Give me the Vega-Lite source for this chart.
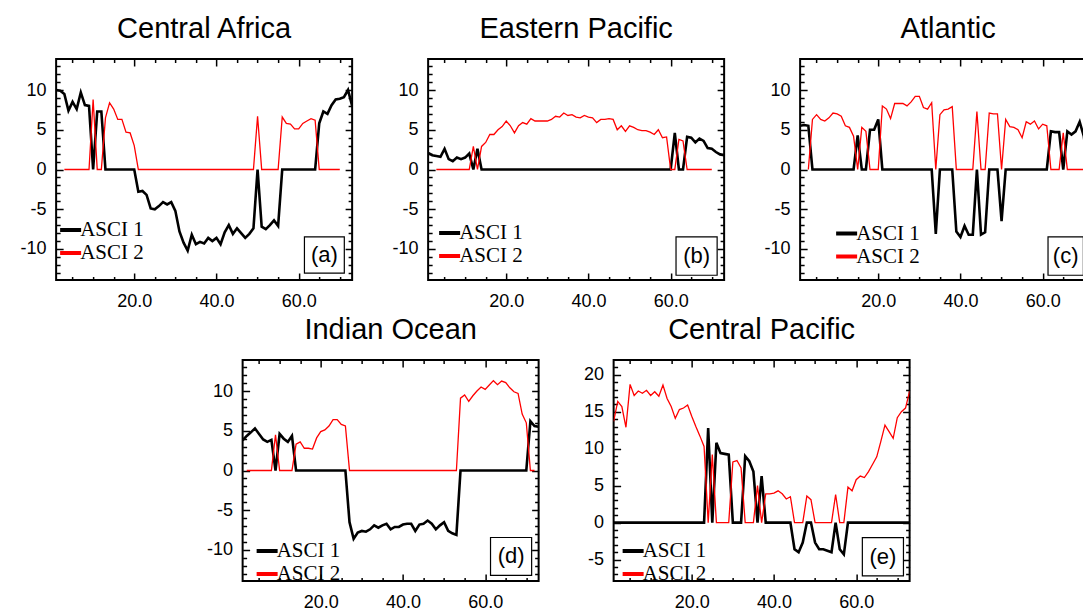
{
"$schema": "https://vega.github.io/schema/vega-lite/v6.json",
"background": "white",
"padding": {"left": 19, "top": 14, "right": 0, "bottom": 0},
"datasets": {
"a": [
{"s":"ASCI 1","t":1,"v":10},{"s":"ASCI 1","t":2,"v":9.9},{"s":"ASCI 1","t":3,"v":9.5},{"s":"ASCI 1","t":4,"v":7.4},{"s":"ASCI 1","t":5,"v":8.5},{"s":"ASCI 1","t":6,"v":7.6},{"s":"ASCI 1","t":7,"v":9.7},{"s":"ASCI 1","t":8,"v":8.1},{"s":"ASCI 1","t":9,"v":8},{"s":"ASCI 1","t":10,"v":0},
{"s":"ASCI 1","t":11,"v":7.3},{"s":"ASCI 1","t":12,"v":7.3},{"s":"ASCI 1","t":13,"v":0},{"s":"ASCI 1","t":14,"v":0},{"s":"ASCI 1","t":15,"v":0},{"s":"ASCI 1","t":16,"v":0},{"s":"ASCI 1","t":17,"v":0},{"s":"ASCI 1","t":18,"v":0},{"s":"ASCI 1","t":19,"v":0},{"s":"ASCI 1","t":20,"v":0},
{"s":"ASCI 1","t":21,"v":-2.8},{"s":"ASCI 1","t":22,"v":-2.7},{"s":"ASCI 1","t":23,"v":-3.2},{"s":"ASCI 1","t":24,"v":-4.9},{"s":"ASCI 1","t":25,"v":-5},{"s":"ASCI 1","t":26,"v":-4.6},{"s":"ASCI 1","t":27,"v":-4.1},{"s":"ASCI 1","t":28,"v":-4.4},{"s":"ASCI 1","t":29,"v":-4.1},{"s":"ASCI 1","t":30,"v":-5.2},
{"s":"ASCI 1","t":31,"v":-7.8},{"s":"ASCI 1","t":32,"v":-9.2},{"s":"ASCI 1","t":33,"v":-10.2},{"s":"ASCI 1","t":34,"v":-8.2},{"s":"ASCI 1","t":35,"v":-9.4},{"s":"ASCI 1","t":36,"v":-9.1},{"s":"ASCI 1","t":37,"v":-9.3},{"s":"ASCI 1","t":38,"v":-8.6},{"s":"ASCI 1","t":39,"v":-9},{"s":"ASCI 1","t":40,"v":-8.6},
{"s":"ASCI 1","t":41,"v":-9.4},{"s":"ASCI 1","t":42,"v":-7.9},{"s":"ASCI 1","t":43,"v":-7},{"s":"ASCI 1","t":44,"v":-8.1},{"s":"ASCI 1","t":45,"v":-7.4},{"s":"ASCI 1","t":46,"v":-8},{"s":"ASCI 1","t":47,"v":-8.6},{"s":"ASCI 1","t":48,"v":-8.1},{"s":"ASCI 1","t":49,"v":-7.4},{"s":"ASCI 1","t":50,"v":0},
{"s":"ASCI 1","t":51,"v":-7.2},{"s":"ASCI 1","t":52,"v":-7.5},{"s":"ASCI 1","t":53,"v":-7},{"s":"ASCI 1","t":54,"v":-6.4},{"s":"ASCI 1","t":55,"v":-7.1},{"s":"ASCI 1","t":56,"v":0},{"s":"ASCI 1","t":57,"v":0},{"s":"ASCI 1","t":58,"v":0},{"s":"ASCI 1","t":59,"v":0},{"s":"ASCI 1","t":60,"v":0},
{"s":"ASCI 1","t":61,"v":0},{"s":"ASCI 1","t":62,"v":0},{"s":"ASCI 1","t":63,"v":0},{"s":"ASCI 1","t":64,"v":0},{"s":"ASCI 1","t":65,"v":5.8},{"s":"ASCI 1","t":66,"v":7.3},{"s":"ASCI 1","t":67,"v":7},{"s":"ASCI 1","t":68,"v":8.1},{"s":"ASCI 1","t":69,"v":8.8},{"s":"ASCI 1","t":70,"v":8.9},
{"s":"ASCI 1","t":71,"v":9.1},{"s":"ASCI 1","t":72,"v":10},{"s":"ASCI 1","t":73,"v":8},
{"s":"ASCI 2","t":3,"v":0},{"s":"ASCI 2","t":4,"v":0},{"s":"ASCI 2","t":5,"v":0},{"s":"ASCI 2","t":6,"v":0},{"s":"ASCI 2","t":7,"v":0},{"s":"ASCI 2","t":8,"v":0},{"s":"ASCI 2","t":9,"v":0},{"s":"ASCI 2","t":10,"v":8.8},
{"s":"ASCI 2","t":11,"v":0},{"s":"ASCI 2","t":12,"v":0},{"s":"ASCI 2","t":13,"v":6.5},{"s":"ASCI 2","t":14,"v":8.4},{"s":"ASCI 2","t":15,"v":7.6},{"s":"ASCI 2","t":16,"v":6.3},{"s":"ASCI 2","t":17,"v":6.3},{"s":"ASCI 2","t":18,"v":4.7},{"s":"ASCI 2","t":19,"v":4.6},{"s":"ASCI 2","t":20,"v":3},
{"s":"ASCI 2","t":21,"v":0},{"s":"ASCI 2","t":22,"v":0},{"s":"ASCI 2","t":23,"v":0},{"s":"ASCI 2","t":24,"v":0},{"s":"ASCI 2","t":25,"v":0},{"s":"ASCI 2","t":26,"v":0},{"s":"ASCI 2","t":27,"v":0},{"s":"ASCI 2","t":28,"v":0},{"s":"ASCI 2","t":29,"v":0},{"s":"ASCI 2","t":30,"v":0},
{"s":"ASCI 2","t":31,"v":0},{"s":"ASCI 2","t":32,"v":0},{"s":"ASCI 2","t":33,"v":0},{"s":"ASCI 2","t":34,"v":0},{"s":"ASCI 2","t":35,"v":0},{"s":"ASCI 2","t":36,"v":0},{"s":"ASCI 2","t":37,"v":0},{"s":"ASCI 2","t":38,"v":0},{"s":"ASCI 2","t":39,"v":0},{"s":"ASCI 2","t":40,"v":0},
{"s":"ASCI 2","t":41,"v":0},{"s":"ASCI 2","t":42,"v":0},{"s":"ASCI 2","t":43,"v":0},{"s":"ASCI 2","t":44,"v":0},{"s":"ASCI 2","t":45,"v":0},{"s":"ASCI 2","t":46,"v":0},{"s":"ASCI 2","t":47,"v":0},{"s":"ASCI 2","t":48,"v":0},{"s":"ASCI 2","t":49,"v":0},{"s":"ASCI 2","t":50,"v":6.7},
{"s":"ASCI 2","t":51,"v":0},{"s":"ASCI 2","t":52,"v":0},{"s":"ASCI 2","t":53,"v":0},{"s":"ASCI 2","t":54,"v":0},{"s":"ASCI 2","t":55,"v":0},{"s":"ASCI 2","t":56,"v":6.6},{"s":"ASCI 2","t":57,"v":5.8},{"s":"ASCI 2","t":58,"v":5.7},{"s":"ASCI 2","t":59,"v":5.1},{"s":"ASCI 2","t":60,"v":5.1},
{"s":"ASCI 2","t":61,"v":5.8},{"s":"ASCI 2","t":62,"v":6.1},{"s":"ASCI 2","t":63,"v":6.4},{"s":"ASCI 2","t":64,"v":6.2},{"s":"ASCI 2","t":65,"v":0},{"s":"ASCI 2","t":66,"v":0},{"s":"ASCI 2","t":67,"v":0},{"s":"ASCI 2","t":68,"v":0},{"s":"ASCI 2","t":69,"v":0},{"s":"ASCI 2","t":70,"v":0}
],
"b": [
{"s":"ASCI 1","t":1,"v":2.1},{"s":"ASCI 1","t":2,"v":1.8},{"s":"ASCI 1","t":3,"v":1.7},{"s":"ASCI 1","t":4,"v":1.6},{"s":"ASCI 1","t":5,"v":2.6},{"s":"ASCI 1","t":6,"v":1.3},{"s":"ASCI 1","t":7,"v":1.05},{"s":"ASCI 1","t":8,"v":1.5},{"s":"ASCI 1","t":9,"v":1.3},{"s":"ASCI 1","t":10,"v":1.5},
{"s":"ASCI 1","t":11,"v":2},{"s":"ASCI 1","t":12,"v":0},{"s":"ASCI 1","t":13,"v":2.6},{"s":"ASCI 1","t":14,"v":0},{"s":"ASCI 1","t":15,"v":0},{"s":"ASCI 1","t":16,"v":0},{"s":"ASCI 1","t":17,"v":0},{"s":"ASCI 1","t":18,"v":0},{"s":"ASCI 1","t":19,"v":0},{"s":"ASCI 1","t":20,"v":0},
{"s":"ASCI 1","t":21,"v":0},{"s":"ASCI 1","t":22,"v":0},{"s":"ASCI 1","t":23,"v":0},{"s":"ASCI 1","t":24,"v":0},{"s":"ASCI 1","t":25,"v":0},{"s":"ASCI 1","t":26,"v":0},{"s":"ASCI 1","t":27,"v":0},{"s":"ASCI 1","t":28,"v":0},{"s":"ASCI 1","t":29,"v":0},{"s":"ASCI 1","t":30,"v":0},
{"s":"ASCI 1","t":31,"v":0},{"s":"ASCI 1","t":32,"v":0},{"s":"ASCI 1","t":33,"v":0},{"s":"ASCI 1","t":34,"v":0},{"s":"ASCI 1","t":35,"v":0},{"s":"ASCI 1","t":36,"v":0},{"s":"ASCI 1","t":37,"v":0},{"s":"ASCI 1","t":38,"v":0},{"s":"ASCI 1","t":39,"v":0},{"s":"ASCI 1","t":40,"v":0},
{"s":"ASCI 1","t":41,"v":0},{"s":"ASCI 1","t":42,"v":0},{"s":"ASCI 1","t":43,"v":0},{"s":"ASCI 1","t":44,"v":0},{"s":"ASCI 1","t":45,"v":0},{"s":"ASCI 1","t":46,"v":0},{"s":"ASCI 1","t":47,"v":0},{"s":"ASCI 1","t":48,"v":0},{"s":"ASCI 1","t":49,"v":0},{"s":"ASCI 1","t":50,"v":0},
{"s":"ASCI 1","t":51,"v":0},{"s":"ASCI 1","t":52,"v":0},{"s":"ASCI 1","t":53,"v":0},{"s":"ASCI 1","t":54,"v":0},{"s":"ASCI 1","t":55,"v":0},{"s":"ASCI 1","t":56,"v":0},{"s":"ASCI 1","t":57,"v":0},{"s":"ASCI 1","t":58,"v":0},{"s":"ASCI 1","t":59,"v":0},{"s":"ASCI 1","t":60,"v":0},
{"s":"ASCI 1","t":61,"v":4.6},{"s":"ASCI 1","t":62,"v":0},{"s":"ASCI 1","t":63,"v":0},{"s":"ASCI 1","t":64,"v":4.1},{"s":"ASCI 1","t":65,"v":4},{"s":"ASCI 1","t":66,"v":3.4},{"s":"ASCI 1","t":67,"v":3.9},{"s":"ASCI 1","t":68,"v":3.6},{"s":"ASCI 1","t":69,"v":2.7},{"s":"ASCI 1","t":70,"v":2.6},
{"s":"ASCI 1","t":71,"v":2.2},{"s":"ASCI 1","t":72,"v":1.9},{"s":"ASCI 1","t":73,"v":1.8},
{"s":"ASCI 2","t":3,"v":0},{"s":"ASCI 2","t":4,"v":0},{"s":"ASCI 2","t":5,"v":0},{"s":"ASCI 2","t":6,"v":0},{"s":"ASCI 2","t":7,"v":0},{"s":"ASCI 2","t":8,"v":0},{"s":"ASCI 2","t":9,"v":0},{"s":"ASCI 2","t":10,"v":0},
{"s":"ASCI 2","t":11,"v":0},{"s":"ASCI 2","t":12,"v":2.9},{"s":"ASCI 2","t":13,"v":0},{"s":"ASCI 2","t":14,"v":2.9},{"s":"ASCI 2","t":15,"v":3.4},{"s":"ASCI 2","t":16,"v":4.4},{"s":"ASCI 2","t":17,"v":4.4},{"s":"ASCI 2","t":18,"v":5},{"s":"ASCI 2","t":19,"v":5.4},{"s":"ASCI 2","t":20,"v":6.1},
{"s":"ASCI 2","t":21,"v":5.5},{"s":"ASCI 2","t":22,"v":4.6},{"s":"ASCI 2","t":23,"v":5.5},{"s":"ASCI 2","t":24,"v":5.9},{"s":"ASCI 2","t":25,"v":5.7},{"s":"ASCI 2","t":26,"v":6.4},{"s":"ASCI 2","t":27,"v":6.1},{"s":"ASCI 2","t":28,"v":6.1},{"s":"ASCI 2","t":29,"v":6.1},{"s":"ASCI 2","t":30,"v":6.1},
{"s":"ASCI 2","t":31,"v":6.3},{"s":"ASCI 2","t":32,"v":6.7},{"s":"ASCI 2","t":33,"v":6.6},{"s":"ASCI 2","t":34,"v":7.1},{"s":"ASCI 2","t":35,"v":6.8},{"s":"ASCI 2","t":36,"v":6.9},{"s":"ASCI 2","t":37,"v":6.6},{"s":"ASCI 2","t":38,"v":6.5},{"s":"ASCI 2","t":39,"v":6.8},{"s":"ASCI 2","t":40,"v":6.6},
{"s":"ASCI 2","t":41,"v":6.5},{"s":"ASCI 2","t":42,"v":5.9},{"s":"ASCI 2","t":43,"v":6.3},{"s":"ASCI 2","t":44,"v":6.3},{"s":"ASCI 2","t":45,"v":6.4},{"s":"ASCI 2","t":46,"v":6.3},{"s":"ASCI 2","t":47,"v":5},{"s":"ASCI 2","t":48,"v":5.5},{"s":"ASCI 2","t":49,"v":4.8},{"s":"ASCI 2","t":50,"v":5.5},
{"s":"ASCI 2","t":51,"v":5.3},{"s":"ASCI 2","t":52,"v":5},{"s":"ASCI 2","t":53,"v":4.9},{"s":"ASCI 2","t":54,"v":4.9},{"s":"ASCI 2","t":55,"v":4.7},{"s":"ASCI 2","t":56,"v":4.4},{"s":"ASCI 2","t":57,"v":5},{"s":"ASCI 2","t":58,"v":4},{"s":"ASCI 2","t":59,"v":4.1},{"s":"ASCI 2","t":60,"v":0},
{"s":"ASCI 2","t":61,"v":0},{"s":"ASCI 2","t":62,"v":3.8},{"s":"ASCI 2","t":63,"v":3.6},{"s":"ASCI 2","t":64,"v":0},{"s":"ASCI 2","t":65,"v":0},{"s":"ASCI 2","t":66,"v":0},{"s":"ASCI 2","t":67,"v":0},{"s":"ASCI 2","t":68,"v":0},{"s":"ASCI 2","t":69,"v":0},{"s":"ASCI 2","t":70,"v":0}
],
"c": [
{"s":"ASCI 1","t":1,"v":5.5},{"s":"ASCI 1","t":2,"v":5.6},{"s":"ASCI 1","t":3,"v":5.5},{"s":"ASCI 1","t":4,"v":0},{"s":"ASCI 1","t":5,"v":0},{"s":"ASCI 1","t":6,"v":0},{"s":"ASCI 1","t":7,"v":0},{"s":"ASCI 1","t":8,"v":0},{"s":"ASCI 1","t":9,"v":0},{"s":"ASCI 1","t":10,"v":0},
{"s":"ASCI 1","t":11,"v":0},{"s":"ASCI 1","t":12,"v":0},{"s":"ASCI 1","t":13,"v":0},{"s":"ASCI 1","t":14,"v":0},{"s":"ASCI 1","t":15,"v":4.3},{"s":"ASCI 1","t":16,"v":0},{"s":"ASCI 1","t":17,"v":0},{"s":"ASCI 1","t":18,"v":5},{"s":"ASCI 1","t":19,"v":5},{"s":"ASCI 1","t":20,"v":6.3},
{"s":"ASCI 1","t":21,"v":0},{"s":"ASCI 1","t":22,"v":0},{"s":"ASCI 1","t":23,"v":0},{"s":"ASCI 1","t":24,"v":0},{"s":"ASCI 1","t":25,"v":0},{"s":"ASCI 1","t":26,"v":0},{"s":"ASCI 1","t":27,"v":0},{"s":"ASCI 1","t":28,"v":0},{"s":"ASCI 1","t":29,"v":0},{"s":"ASCI 1","t":30,"v":0},
{"s":"ASCI 1","t":31,"v":0},{"s":"ASCI 1","t":32,"v":0},{"s":"ASCI 1","t":33,"v":0},{"s":"ASCI 1","t":34,"v":-8.1},{"s":"ASCI 1","t":35,"v":0},{"s":"ASCI 1","t":36,"v":0},{"s":"ASCI 1","t":37,"v":0},{"s":"ASCI 1","t":38,"v":0},{"s":"ASCI 1","t":39,"v":-7.8},{"s":"ASCI 1","t":40,"v":-8.5},
{"s":"ASCI 1","t":41,"v":-7.1},{"s":"ASCI 1","t":42,"v":-8.2},{"s":"ASCI 1","t":43,"v":-8.2},{"s":"ASCI 1","t":44,"v":0},{"s":"ASCI 1","t":45,"v":-8.2},{"s":"ASCI 1","t":46,"v":-7.9},{"s":"ASCI 1","t":47,"v":0},{"s":"ASCI 1","t":48,"v":0},{"s":"ASCI 1","t":49,"v":0},{"s":"ASCI 1","t":50,"v":-6.5},
{"s":"ASCI 1","t":51,"v":0},{"s":"ASCI 1","t":52,"v":0},{"s":"ASCI 1","t":53,"v":0},{"s":"ASCI 1","t":54,"v":0},{"s":"ASCI 1","t":55,"v":0},{"s":"ASCI 1","t":56,"v":0},{"s":"ASCI 1","t":57,"v":0},{"s":"ASCI 1","t":58,"v":0},{"s":"ASCI 1","t":59,"v":0},{"s":"ASCI 1","t":60,"v":0},
{"s":"ASCI 1","t":61,"v":0},{"s":"ASCI 1","t":62,"v":4.8},{"s":"ASCI 1","t":63,"v":4.7},{"s":"ASCI 1","t":64,"v":4.7},{"s":"ASCI 1","t":65,"v":0},{"s":"ASCI 1","t":66,"v":4.8},{"s":"ASCI 1","t":67,"v":4.4},{"s":"ASCI 1","t":68,"v":4.8},{"s":"ASCI 1","t":69,"v":6},{"s":"ASCI 1","t":70,"v":4.2},
{"s":"ASCI 1","t":71,"v":0},{"s":"ASCI 1","t":72,"v":0},{"s":"ASCI 1","t":73,"v":0},
{"s":"ASCI 2","t":3,"v":0},{"s":"ASCI 2","t":4,"v":6.3},{"s":"ASCI 2","t":5,"v":6.9},{"s":"ASCI 2","t":6,"v":6.3},{"s":"ASCI 2","t":7,"v":6.1},{"s":"ASCI 2","t":8,"v":6.5},{"s":"ASCI 2","t":9,"v":7.1},{"s":"ASCI 2","t":10,"v":7},
{"s":"ASCI 2","t":11,"v":6.7},{"s":"ASCI 2","t":12,"v":5.5},{"s":"ASCI 2","t":13,"v":5.3},{"s":"ASCI 2","t":14,"v":4.2},{"s":"ASCI 2","t":15,"v":0},{"s":"ASCI 2","t":16,"v":5.3},{"s":"ASCI 2","t":17,"v":4.8},{"s":"ASCI 2","t":18,"v":0},{"s":"ASCI 2","t":19,"v":0},{"s":"ASCI 2","t":20,"v":0},
{"s":"ASCI 2","t":21,"v":8},{"s":"ASCI 2","t":22,"v":7.6},{"s":"ASCI 2","t":23,"v":6.4},{"s":"ASCI 2","t":24,"v":8.3},{"s":"ASCI 2","t":25,"v":8.3},{"s":"ASCI 2","t":26,"v":8.3},{"s":"ASCI 2","t":27,"v":8},{"s":"ASCI 2","t":28,"v":8.5},{"s":"ASCI 2","t":29,"v":9.2},{"s":"ASCI 2","t":30,"v":9.2},
{"s":"ASCI 2","t":31,"v":7.8},{"s":"ASCI 2","t":32,"v":7.6},{"s":"ASCI 2","t":33,"v":8.4},{"s":"ASCI 2","t":34,"v":0},{"s":"ASCI 2","t":35,"v":6.9},{"s":"ASCI 2","t":36,"v":7.5},{"s":"ASCI 2","t":37,"v":7.6},{"s":"ASCI 2","t":38,"v":7.9},{"s":"ASCI 2","t":39,"v":0},{"s":"ASCI 2","t":40,"v":0},
{"s":"ASCI 2","t":41,"v":0},{"s":"ASCI 2","t":42,"v":0},{"s":"ASCI 2","t":43,"v":0},{"s":"ASCI 2","t":44,"v":7.3},{"s":"ASCI 2","t":45,"v":0},{"s":"ASCI 2","t":46,"v":0},{"s":"ASCI 2","t":47,"v":7.1},{"s":"ASCI 2","t":48,"v":7},{"s":"ASCI 2","t":49,"v":7},{"s":"ASCI 2","t":50,"v":0},
{"s":"ASCI 2","t":51,"v":6.3},{"s":"ASCI 2","t":52,"v":5.4},{"s":"ASCI 2","t":53,"v":5.3},{"s":"ASCI 2","t":54,"v":5},{"s":"ASCI 2","t":55,"v":4},{"s":"ASCI 2","t":56,"v":6},{"s":"ASCI 2","t":57,"v":5.7},{"s":"ASCI 2","t":58,"v":6.1},{"s":"ASCI 2","t":59,"v":5.1},{"s":"ASCI 2","t":60,"v":5.7},
{"s":"ASCI 2","t":61,"v":5.5},{"s":"ASCI 2","t":62,"v":0},{"s":"ASCI 2","t":63,"v":0},{"s":"ASCI 2","t":64,"v":0},{"s":"ASCI 2","t":65,"v":4.6},{"s":"ASCI 2","t":66,"v":0},{"s":"ASCI 2","t":67,"v":0},{"s":"ASCI 2","t":68,"v":0},{"s":"ASCI 2","t":69,"v":0},{"s":"ASCI 2","t":70,"v":0},
{"s":"ASCI 2","t":71,"v":5}
],
"d": [
{"s":"ASCI 1","t":1,"v":3.8},{"s":"ASCI 1","t":2,"v":4.35},{"s":"ASCI 1","t":3,"v":4.8},{"s":"ASCI 1","t":4,"v":5.3},{"s":"ASCI 1","t":5,"v":4.6},{"s":"ASCI 1","t":6,"v":3.9},{"s":"ASCI 1","t":7,"v":3.6},{"s":"ASCI 1","t":8,"v":3.85},{"s":"ASCI 1","t":9,"v":0},{"s":"ASCI 1","t":10,"v":4.6},
{"s":"ASCI 1","t":11,"v":4},{"s":"ASCI 1","t":12,"v":3.6},{"s":"ASCI 1","t":13,"v":4.35},{"s":"ASCI 1","t":14,"v":0},{"s":"ASCI 1","t":15,"v":0},{"s":"ASCI 1","t":16,"v":0},{"s":"ASCI 1","t":17,"v":0},{"s":"ASCI 1","t":18,"v":0},{"s":"ASCI 1","t":19,"v":0},{"s":"ASCI 1","t":20,"v":0},
{"s":"ASCI 1","t":21,"v":0},{"s":"ASCI 1","t":22,"v":0},{"s":"ASCI 1","t":23,"v":0},{"s":"ASCI 1","t":24,"v":0},{"s":"ASCI 1","t":25,"v":0},{"s":"ASCI 1","t":26,"v":0},{"s":"ASCI 1","t":27,"v":-6.5},{"s":"ASCI 1","t":28,"v":-8.6},{"s":"ASCI 1","t":29,"v":-7.8},{"s":"ASCI 1","t":30,"v":-7.6},
{"s":"ASCI 1","t":31,"v":-7.7},{"s":"ASCI 1","t":32,"v":-7.4},{"s":"ASCI 1","t":33,"v":-6.9},{"s":"ASCI 1","t":34,"v":-7.2},{"s":"ASCI 1","t":35,"v":-6.9},{"s":"ASCI 1","t":36,"v":-6.7},{"s":"ASCI 1","t":37,"v":-7.4},{"s":"ASCI 1","t":38,"v":-7.1},{"s":"ASCI 1","t":39,"v":-7.1},{"s":"ASCI 1","t":40,"v":-6.8},
{"s":"ASCI 1","t":41,"v":-6.7},{"s":"ASCI 1","t":42,"v":-6.7},{"s":"ASCI 1","t":43,"v":-7.6},{"s":"ASCI 1","t":44,"v":-6.8},{"s":"ASCI 1","t":45,"v":-6.7},{"s":"ASCI 1","t":46,"v":-6.3},{"s":"ASCI 1","t":47,"v":-6.7},{"s":"ASCI 1","t":48,"v":-7.4},{"s":"ASCI 1","t":49,"v":-6.9},{"s":"ASCI 1","t":50,"v":-6.5},
{"s":"ASCI 1","t":51,"v":-7.6},{"s":"ASCI 1","t":52,"v":-7.9},{"s":"ASCI 1","t":53,"v":-8.1},{"s":"ASCI 1","t":54,"v":0},{"s":"ASCI 1","t":55,"v":0},{"s":"ASCI 1","t":56,"v":0},{"s":"ASCI 1","t":57,"v":0},{"s":"ASCI 1","t":58,"v":0},{"s":"ASCI 1","t":59,"v":0},{"s":"ASCI 1","t":60,"v":0},
{"s":"ASCI 1","t":61,"v":0},{"s":"ASCI 1","t":62,"v":0},{"s":"ASCI 1","t":63,"v":0},{"s":"ASCI 1","t":64,"v":0},{"s":"ASCI 1","t":65,"v":0},{"s":"ASCI 1","t":66,"v":0},{"s":"ASCI 1","t":67,"v":0},{"s":"ASCI 1","t":68,"v":0},{"s":"ASCI 1","t":69,"v":0},{"s":"ASCI 1","t":70,"v":0},
{"s":"ASCI 1","t":71,"v":6.2},{"s":"ASCI 1","t":72,"v":5.6},{"s":"ASCI 1","t":73,"v":5.5},
{"s":"ASCI 2","t":2,"v":0},{"s":"ASCI 2","t":3,"v":0},{"s":"ASCI 2","t":4,"v":0},{"s":"ASCI 2","t":5,"v":0},{"s":"ASCI 2","t":6,"v":0},{"s":"ASCI 2","t":7,"v":0},{"s":"ASCI 2","t":8,"v":0},{"s":"ASCI 2","t":9,"v":4.5},{"s":"ASCI 2","t":10,"v":0},
{"s":"ASCI 2","t":11,"v":0},{"s":"ASCI 2","t":12,"v":0},{"s":"ASCI 2","t":13,"v":0},{"s":"ASCI 2","t":14,"v":3.3},{"s":"ASCI 2","t":15,"v":3.6},{"s":"ASCI 2","t":16,"v":2.8},{"s":"ASCI 2","t":17,"v":2.8},{"s":"ASCI 2","t":18,"v":2.7},{"s":"ASCI 2","t":19,"v":4.1},{"s":"ASCI 2","t":20,"v":4.9},
{"s":"ASCI 2","t":21,"v":5.1},{"s":"ASCI 2","t":22,"v":5.6},{"s":"ASCI 2","t":23,"v":6.4},{"s":"ASCI 2","t":24,"v":6.4},{"s":"ASCI 2","t":25,"v":5.8},{"s":"ASCI 2","t":26,"v":5.6},{"s":"ASCI 2","t":27,"v":0},{"s":"ASCI 2","t":28,"v":0},{"s":"ASCI 2","t":29,"v":0},{"s":"ASCI 2","t":30,"v":0},
{"s":"ASCI 2","t":31,"v":0},{"s":"ASCI 2","t":32,"v":0},{"s":"ASCI 2","t":33,"v":0},{"s":"ASCI 2","t":34,"v":0},{"s":"ASCI 2","t":35,"v":0},{"s":"ASCI 2","t":36,"v":0},{"s":"ASCI 2","t":37,"v":0},{"s":"ASCI 2","t":38,"v":0},{"s":"ASCI 2","t":39,"v":0},{"s":"ASCI 2","t":40,"v":0},
{"s":"ASCI 2","t":41,"v":0},{"s":"ASCI 2","t":42,"v":0},{"s":"ASCI 2","t":43,"v":0},{"s":"ASCI 2","t":44,"v":0},{"s":"ASCI 2","t":45,"v":0},{"s":"ASCI 2","t":46,"v":0},{"s":"ASCI 2","t":47,"v":0},{"s":"ASCI 2","t":48,"v":0},{"s":"ASCI 2","t":49,"v":0},{"s":"ASCI 2","t":50,"v":0},
{"s":"ASCI 2","t":51,"v":0},{"s":"ASCI 2","t":52,"v":0},{"s":"ASCI 2","t":53,"v":0},{"s":"ASCI 2","t":54,"v":9.1},{"s":"ASCI 2","t":55,"v":9.5},{"s":"ASCI 2","t":56,"v":8.7},{"s":"ASCI 2","t":57,"v":9.4},{"s":"ASCI 2","t":58,"v":10},{"s":"ASCI 2","t":59,"v":10.5},{"s":"ASCI 2","t":60,"v":10.2},
{"s":"ASCI 2","t":61,"v":10.75},{"s":"ASCI 2","t":62,"v":11.3},{"s":"ASCI 2","t":63,"v":10.8},{"s":"ASCI 2","t":64,"v":11.25},{"s":"ASCI 2","t":65,"v":11.05},{"s":"ASCI 2","t":66,"v":10.4},{"s":"ASCI 2","t":67,"v":9.9},{"s":"ASCI 2","t":68,"v":9.7},{"s":"ASCI 2","t":69,"v":7.1},{"s":"ASCI 2","t":70,"v":6},
{"s":"ASCI 2","t":71,"v":0},{"s":"ASCI 2","t":72,"v":0}
],
"e": [
{"s":"ASCI 1","t":1,"v":0},{"s":"ASCI 1","t":2,"v":0},{"s":"ASCI 1","t":3,"v":0},{"s":"ASCI 1","t":4,"v":0},{"s":"ASCI 1","t":5,"v":0},{"s":"ASCI 1","t":6,"v":0},{"s":"ASCI 1","t":7,"v":0},{"s":"ASCI 1","t":8,"v":0},{"s":"ASCI 1","t":9,"v":0},{"s":"ASCI 1","t":10,"v":0},
{"s":"ASCI 1","t":11,"v":0},{"s":"ASCI 1","t":12,"v":0},{"s":"ASCI 1","t":13,"v":0},{"s":"ASCI 1","t":14,"v":0},{"s":"ASCI 1","t":15,"v":0},{"s":"ASCI 1","t":16,"v":0},{"s":"ASCI 1","t":17,"v":0},{"s":"ASCI 1","t":18,"v":0},{"s":"ASCI 1","t":19,"v":0},{"s":"ASCI 1","t":20,"v":0},
{"s":"ASCI 1","t":21,"v":0},{"s":"ASCI 1","t":22,"v":0},{"s":"ASCI 1","t":23,"v":0},{"s":"ASCI 1","t":24,"v":12.8},{"s":"ASCI 1","t":25,"v":0},{"s":"ASCI 1","t":26,"v":10.8},{"s":"ASCI 1","t":27,"v":9.4},{"s":"ASCI 1","t":28,"v":9.3},{"s":"ASCI 1","t":29,"v":9.2},{"s":"ASCI 1","t":30,"v":0},
{"s":"ASCI 1","t":31,"v":0},{"s":"ASCI 1","t":32,"v":0},{"s":"ASCI 1","t":33,"v":9},{"s":"ASCI 1","t":34,"v":8.3},{"s":"ASCI 1","t":35,"v":6.9},{"s":"ASCI 1","t":36,"v":0},{"s":"ASCI 1","t":37,"v":6.3},{"s":"ASCI 1","t":38,"v":0},{"s":"ASCI 1","t":39,"v":0},{"s":"ASCI 1","t":40,"v":0},
{"s":"ASCI 1","t":41,"v":0},{"s":"ASCI 1","t":42,"v":0},{"s":"ASCI 1","t":43,"v":0},{"s":"ASCI 1","t":44,"v":0},{"s":"ASCI 1","t":45,"v":-3.6},{"s":"ASCI 1","t":46,"v":-4},{"s":"ASCI 1","t":47,"v":-2.7},{"s":"ASCI 1","t":48,"v":0},{"s":"ASCI 1","t":49,"v":0},{"s":"ASCI 1","t":50,"v":-2.7},
{"s":"ASCI 1","t":51,"v":-3.6},{"s":"ASCI 1","t":52,"v":-3.6},{"s":"ASCI 1","t":53,"v":-3.8},{"s":"ASCI 1","t":54,"v":-4},{"s":"ASCI 1","t":55,"v":0},{"s":"ASCI 1","t":56,"v":-3.6},{"s":"ASCI 1","t":57,"v":-4.3},{"s":"ASCI 1","t":58,"v":0},{"s":"ASCI 1","t":59,"v":0},{"s":"ASCI 1","t":60,"v":0},
{"s":"ASCI 1","t":61,"v":0},{"s":"ASCI 1","t":62,"v":0},{"s":"ASCI 1","t":63,"v":0},{"s":"ASCI 1","t":64,"v":0},{"s":"ASCI 1","t":65,"v":0},{"s":"ASCI 1","t":66,"v":0},{"s":"ASCI 1","t":67,"v":0},{"s":"ASCI 1","t":68,"v":0},{"s":"ASCI 1","t":69,"v":0},{"s":"ASCI 1","t":70,"v":0},
{"s":"ASCI 1","t":71,"v":0},{"s":"ASCI 1","t":72,"v":0},{"s":"ASCI 1","t":73,"v":0},
{"s":"ASCI 2","t":1,"v":13.7},{"s":"ASCI 2","t":2,"v":16.4},{"s":"ASCI 2","t":3,"v":15.7},{"s":"ASCI 2","t":4,"v":12.9},{"s":"ASCI 2","t":5,"v":18.7},{"s":"ASCI 2","t":6,"v":17.2},{"s":"ASCI 2","t":7,"v":17.8},{"s":"ASCI 2","t":8,"v":17.5},{"s":"ASCI 2","t":9,"v":17.9},{"s":"ASCI 2","t":10,"v":17.2},
{"s":"ASCI 2","t":11,"v":17.7},{"s":"ASCI 2","t":12,"v":17.1},{"s":"ASCI 2","t":13,"v":18.6},{"s":"ASCI 2","t":14,"v":16.8},{"s":"ASCI 2","t":15,"v":15.7},{"s":"ASCI 2","t":16,"v":14.1},{"s":"ASCI 2","t":17,"v":15.3},{"s":"ASCI 2","t":18,"v":15.5},{"s":"ASCI 2","t":19,"v":15.9},{"s":"ASCI 2","t":20,"v":14.4},
{"s":"ASCI 2","t":21,"v":13},{"s":"ASCI 2","t":22,"v":11.7},{"s":"ASCI 2","t":23,"v":10.3},{"s":"ASCI 2","t":24,"v":0},{"s":"ASCI 2","t":25,"v":9.2},{"s":"ASCI 2","t":26,"v":0},{"s":"ASCI 2","t":27,"v":0},{"s":"ASCI 2","t":28,"v":0},{"s":"ASCI 2","t":29,"v":0},{"s":"ASCI 2","t":30,"v":8.2},
{"s":"ASCI 2","t":31,"v":8.4},{"s":"ASCI 2","t":32,"v":7.4},{"s":"ASCI 2","t":33,"v":0},{"s":"ASCI 2","t":34,"v":0},{"s":"ASCI 2","t":35,"v":0},{"s":"ASCI 2","t":36,"v":5},{"s":"ASCI 2","t":37,"v":0},{"s":"ASCI 2","t":38,"v":3.9},{"s":"ASCI 2","t":39,"v":3.9},{"s":"ASCI 2","t":40,"v":4},
{"s":"ASCI 2","t":41,"v":4.3},{"s":"ASCI 2","t":42,"v":3.9},{"s":"ASCI 2","t":43,"v":3.2},{"s":"ASCI 2","t":44,"v":3.5},{"s":"ASCI 2","t":45,"v":0},{"s":"ASCI 2","t":46,"v":0},{"s":"ASCI 2","t":47,"v":0},{"s":"ASCI 2","t":48,"v":3.6},{"s":"ASCI 2","t":49,"v":3.1},{"s":"ASCI 2","t":50,"v":0},
{"s":"ASCI 2","t":51,"v":0},{"s":"ASCI 2","t":52,"v":0},{"s":"ASCI 2","t":53,"v":0},{"s":"ASCI 2","t":54,"v":0},{"s":"ASCI 2","t":55,"v":3.8},{"s":"ASCI 2","t":56,"v":0},{"s":"ASCI 2","t":57,"v":0},{"s":"ASCI 2","t":58,"v":4.8},{"s":"ASCI 2","t":59,"v":4.3},{"s":"ASCI 2","t":60,"v":5.8},
{"s":"ASCI 2","t":61,"v":6.3},{"s":"ASCI 2","t":62,"v":6.1},{"s":"ASCI 2","t":63,"v":6.9},{"s":"ASCI 2","t":64,"v":7.9},{"s":"ASCI 2","t":65,"v":8.9},{"s":"ASCI 2","t":66,"v":11},{"s":"ASCI 2","t":67,"v":13.2},{"s":"ASCI 2","t":68,"v":12.3},{"s":"ASCI 2","t":69,"v":11.4},{"s":"ASCI 2","t":70,"v":14.2},
{"s":"ASCI 2","t":71,"v":15},{"s":"ASCI 2","t":72,"v":15.5},{"s":"ASCI 2","t":73,"v":17.8}
]
},
"vconcat": [
{"hconcat": [
{"width": 296, "height": 221, "title": "Central Africa",
 "layer": [
  {"data": {"name": "a"}, "mark": {"type": "line", "clip": true},
   "encoding": {
    "x": {"field": "t", "type": "quantitative", "scale": {"domain": [1, 73], "nice": false, "zero": false}, "axis": {"orient": "bottom", "values": [20, 40, 60], "format": ".1f", "offset": -7, "tickSize": 7, "labelPadding": 12, "title": null}},
    "y": {"field": "v", "type": "quantitative", "scale": {"domain": [-13.9, 13.9], "nice": false, "zero": false}, "axis": {"orient": "left", "values": [-10, -5, 0, 5, 10], "offset": -7, "tickSize": 7, "labelPadding": 10, "labelExpr": "replace(datum.label, '\u2212', '-')", "title": null}},
    "color": {"field": "s", "type": "nominal", "scale": {"domain": ["ASCI 1", "ASCI 2"], "range": ["#000000", "#ff0000"]}, "legend": {"orient": "none", "legendX": 2, "legendY": 158.5, "title": null}},
    "strokeWidth": {"condition": {"test": "datum.s === 'ASCI 1'", "value": 2.6}, "value": 1.3}
   }},
  {"data": {"values": [{}]}, "mark": {"type": "rect", "fill": "white", "stroke": "black", "strokeWidth": 1.2},
   "encoding": {
    "x": {"datum": 61.4, "type": "quantitative", "scale": {"domain": [1, 73], "nice": false, "zero": false}, "axis": {"orient": "bottom", "values": [5, 10, 15, 25, 30, 35, 45, 50, 55, 65, 70], "labels": false, "offset": -3.5, "tickSize": 3.5, "title": null}},
    "x2": {"datum": 71.1},
    "y": {"datum": -8.47, "type": "quantitative", "scale": {"domain": [-13.9, 13.9], "nice": false, "zero": false}, "axis": {"orient": "left", "values": [-13, -12, -11, -9, -8, -7, -6, -4, -3, -2, -1, 1, 2, 3, 4, 6, 7, 8, 9, 11, 12, 13], "labels": false, "offset": -4, "tickSize": 4, "title": null}},
    "y2": {"datum": -13.03}
   }},
  {"data": {"values": [{}]}, "mark": {"type": "text", "fontSize": 22, "font": "Liberation Sans", "color": "black"},
   "encoding": {
    "x": {"datum": 66.25, "type": "quantitative", "scale": {"domain": [1, 73], "nice": false, "zero": false}, "axis": {"orient": "top", "values": [20, 40, 60], "labels": false, "offset": -7, "tickSize": 7, "title": null}},
    "y": {"datum": -10.75, "type": "quantitative", "scale": {"domain": [-13.9, 13.9], "nice": false, "zero": false}, "axis": {"orient": "right", "values": [-10, -5, 0, 5, 10], "labels": false, "offset": -7, "tickSize": 7, "title": null}},
    "text": {"value": "(a)"}
   }},
  {"data": {"values": [{}]}, "mark": {"type": "point", "opacity": 0},
   "encoding": {
    "x": {"datum": 1, "type": "quantitative", "scale": {"domain": [1, 73], "nice": false, "zero": false}, "axis": {"orient": "top", "values": [5, 10, 15, 25, 30, 35, 45, 50, 55, 65, 70], "labels": false, "offset": -3.5, "tickSize": 3.5, "title": null}},
    "y": {"datum": 0, "type": "quantitative", "scale": {"domain": [-13.9, 13.9], "nice": false, "zero": false}, "axis": {"orient": "right", "values": [-13, -12, -11, -9, -8, -7, -6, -4, -3, -2, -1, 1, 2, 3, 4, 6, 7, 8, 9, 11, 12, 13], "labels": false, "offset": -4, "tickSize": 4, "title": null}}
   }}
 ],
 "resolve": {"axis": {"x": "independent", "y": "independent"}}
},
{"width": 296, "height": 221, "title": "Eastern Pacific",
 "layer": [
  {"data": {"name": "b"}, "mark": {"type": "line", "clip": true},
   "encoding": {
    "x": {"field": "t", "type": "quantitative", "scale": {"domain": [1, 73], "nice": false, "zero": false}, "axis": {"orient": "bottom", "values": [20, 40, 60], "format": ".1f", "offset": -7, "tickSize": 7, "labelPadding": 12, "title": null}},
    "y": {"field": "v", "type": "quantitative", "scale": {"domain": [-13.9, 13.9], "nice": false, "zero": false}, "axis": {"orient": "left", "values": [-10, -5, 0, 5, 10], "offset": -7, "tickSize": 7, "labelPadding": 10, "labelExpr": "replace(datum.label, '\u2212', '-')", "title": null}},
    "color": {"field": "s", "type": "nominal", "scale": {"domain": ["ASCI 1", "ASCI 2"], "range": ["#000000", "#ff0000"]}, "legend": {"orient": "none", "legendX": 9, "legendY": 161.5, "title": null}},
    "strokeWidth": {"condition": {"test": "datum.s === 'ASCI 1'", "value": 2.6}, "value": 1.3}
   }},
  {"data": {"values": [{}]}, "mark": {"type": "rect", "fill": "white", "stroke": "black", "strokeWidth": 1.2},
   "encoding": {
    "x": {"datum": 61.3, "type": "quantitative", "scale": {"domain": [1, 73], "nice": false, "zero": false}, "axis": {"orient": "bottom", "values": [5, 10, 15, 25, 30, 35, 45, 50, 55, 65, 70], "labels": false, "offset": -3.5, "tickSize": 3.5, "title": null}},
    "x2": {"datum": 71.3},
    "y": {"datum": -8.47, "type": "quantitative", "scale": {"domain": [-13.9, 13.9], "nice": false, "zero": false}, "axis": {"orient": "left", "values": [-13, -12, -11, -9, -8, -7, -6, -4, -3, -2, -1, 1, 2, 3, 4, 6, 7, 8, 9, 11, 12, 13], "labels": false, "offset": -4, "tickSize": 4, "title": null}},
    "y2": {"datum": -13.3}
   }},
  {"data": {"values": [{}]}, "mark": {"type": "text", "fontSize": 22, "font": "Liberation Sans", "color": "black"},
   "encoding": {
    "x": {"datum": 66.3, "type": "quantitative", "scale": {"domain": [1, 73], "nice": false, "zero": false}, "axis": {"orient": "top", "values": [20, 40, 60], "labels": false, "offset": -7, "tickSize": 7, "title": null}},
    "y": {"datum": -10.9, "type": "quantitative", "scale": {"domain": [-13.9, 13.9], "nice": false, "zero": false}, "axis": {"orient": "right", "values": [-10, -5, 0, 5, 10], "labels": false, "offset": -7, "tickSize": 7, "title": null}},
    "text": {"value": "(b)"}
   }},
  {"data": {"values": [{}]}, "mark": {"type": "point", "opacity": 0},
   "encoding": {
    "x": {"datum": 1, "type": "quantitative", "scale": {"domain": [1, 73], "nice": false, "zero": false}, "axis": {"orient": "top", "values": [5, 10, 15, 25, 30, 35, 45, 50, 55, 65, 70], "labels": false, "offset": -3.5, "tickSize": 3.5, "title": null}},
    "y": {"datum": 0, "type": "quantitative", "scale": {"domain": [-13.9, 13.9], "nice": false, "zero": false}, "axis": {"orient": "right", "values": [-13, -12, -11, -9, -8, -7, -6, -4, -3, -2, -1, 1, 2, 3, 4, 6, 7, 8, 9, 11, 12, 13], "labels": false, "offset": -4, "tickSize": 4, "title": null}}
   }}
 ],
 "resolve": {"axis": {"x": "independent", "y": "independent"}}
},
{"width": 296, "height": 221, "title": "Atlantic",
 "layer": [
  {"data": {"name": "c"}, "mark": {"type": "line", "clip": true},
   "encoding": {
    "x": {"field": "t", "type": "quantitative", "scale": {"domain": [1, 73], "nice": false, "zero": false}, "axis": {"orient": "bottom", "values": [20, 40, 60], "format": ".1f", "offset": -7, "tickSize": 7, "labelPadding": 12, "title": null}},
    "y": {"field": "v", "type": "quantitative", "scale": {"domain": [-13.9, 13.9], "nice": false, "zero": false}, "axis": {"orient": "left", "values": [-10, -5, 0, 5, 10], "offset": -7, "tickSize": 7, "labelPadding": 10, "labelExpr": "replace(datum.label, '\u2212', '-')", "title": null}},
    "color": {"field": "s", "type": "nominal", "scale": {"domain": ["ASCI 1", "ASCI 2"], "range": ["#000000", "#ff0000"]}, "legend": {"orient": "none", "legendX": 34, "legendY": 162, "title": null}},
    "strokeWidth": {"condition": {"test": "datum.s === 'ASCI 1'", "value": 2.6}, "value": 1.3}
   }},
  {"data": {"values": [{}]}, "mark": {"type": "rect", "fill": "white", "stroke": "black", "strokeWidth": 1.2},
   "encoding": {
    "x": {"datum": 61.3, "type": "quantitative", "scale": {"domain": [1, 73], "nice": false, "zero": false}, "axis": {"orient": "bottom", "values": [5, 10, 15, 25, 30, 35, 45, 50, 55, 65, 70], "labels": false, "offset": -3.5, "tickSize": 3.5, "title": null}},
    "x2": {"datum": 69.9},
    "y": {"datum": -8.47, "type": "quantitative", "scale": {"domain": [-13.9, 13.9], "nice": false, "zero": false}, "axis": {"orient": "left", "values": [-13, -12, -11, -9, -8, -7, -6, -4, -3, -2, -1, 1, 2, 3, 4, 6, 7, 8, 9, 11, 12, 13], "labels": false, "offset": -4, "tickSize": 4, "title": null}},
    "y2": {"datum": -13.3}
   }},
  {"data": {"values": [{}]}, "mark": {"type": "text", "fontSize": 22, "font": "Liberation Sans", "color": "black"},
   "encoding": {
    "x": {"datum": 65.6, "type": "quantitative", "scale": {"domain": [1, 73], "nice": false, "zero": false}, "axis": {"orient": "top", "values": [20, 40, 60], "labels": false, "offset": -7, "tickSize": 7, "title": null}},
    "y": {"datum": -10.9, "type": "quantitative", "scale": {"domain": [-13.9, 13.9], "nice": false, "zero": false}, "axis": {"orient": "right", "values": [-10, -5, 0, 5, 10], "labels": false, "offset": -7, "tickSize": 7, "title": null}},
    "text": {"value": "(c)"}
   }},
  {"data": {"values": [{}]}, "mark": {"type": "point", "opacity": 0},
   "encoding": {
    "x": {"datum": 1, "type": "quantitative", "scale": {"domain": [1, 73], "nice": false, "zero": false}, "axis": {"orient": "top", "values": [5, 10, 15, 25, 30, 35, 45, 50, 55, 65, 70], "labels": false, "offset": -3.5, "tickSize": 3.5, "title": null}},
    "y": {"datum": 0, "type": "quantitative", "scale": {"domain": [-13.9, 13.9], "nice": false, "zero": false}, "axis": {"orient": "right", "values": [-13, -12, -11, -9, -8, -7, -6, -4, -3, -2, -1, 1, 2, 3, 4, 6, 7, 8, 9, 11, 12, 13], "labels": false, "offset": -4, "tickSize": 4, "title": null}}
   }}
 ],
 "resolve": {"axis": {"x": "independent", "y": "independent"}}
}
], "spacing": 76, "bounds": "flush", "resolve": {"scale": {"color": "independent"}, "legend": {"color": "independent"}}},
{"hconcat": [
{"width": 296, "height": 221, "title": "Indian Ocean",
 "layer": [
  {"data": {"name": "d"}, "mark": {"type": "line", "clip": true},
   "encoding": {
    "x": {"field": "t", "type": "quantitative", "scale": {"domain": [1, 73], "nice": false, "zero": false}, "axis": {"orient": "bottom", "values": [20, 40, 60], "format": ".1f", "offset": -7, "tickSize": 7, "labelPadding": 12, "title": null}},
    "y": {"field": "v", "type": "quantitative", "scale": {"domain": [-13.9, 13.9], "nice": false, "zero": false}, "axis": {"orient": "left", "values": [-10, -5, 0, 5, 10], "offset": -7, "tickSize": 7, "labelPadding": 10, "labelExpr": "replace(datum.label, '\u2212', '-')", "title": null}},
    "color": {"field": "s", "type": "nominal", "scale": {"domain": ["ASCI 1", "ASCI 2"], "range": ["#000000", "#ff0000"]}, "legend": {"orient": "none", "legendX": 12, "legendY": 178.5, "title": null}},
    "strokeWidth": {"condition": {"test": "datum.s === 'ASCI 1'", "value": 2.6}, "value": 1.3}
   }},
  {"data": {"values": [{}]}, "mark": {"type": "rect", "fill": "white", "stroke": "black", "strokeWidth": 1.2},
   "encoding": {
    "x": {"datum": 61.3, "type": "quantitative", "scale": {"domain": [1, 73], "nice": false, "zero": false}, "axis": {"orient": "bottom", "values": [5, 10, 15, 25, 30, 35, 45, 50, 55, 65, 70], "labels": false, "offset": -3.5, "tickSize": 3.5, "title": null}},
    "x2": {"datum": 71.3},
    "y": {"datum": -8.43, "type": "quantitative", "scale": {"domain": [-13.9, 13.9], "nice": false, "zero": false}, "axis": {"orient": "left", "values": [-13, -12, -11, -9, -8, -7, -6, -4, -3, -2, -1, 1, 2, 3, 4, 6, 7, 8, 9, 11, 12, 13], "labels": false, "offset": -4, "tickSize": 4, "title": null}},
    "y2": {"datum": -13.2}
   }},
  {"data": {"values": [{}]}, "mark": {"type": "text", "fontSize": 22, "font": "Liberation Sans", "color": "black"},
   "encoding": {
    "x": {"datum": 66.3, "type": "quantitative", "scale": {"domain": [1, 73], "nice": false, "zero": false}, "axis": {"orient": "top", "values": [20, 40, 60], "labels": false, "offset": -7, "tickSize": 7, "title": null}},
    "y": {"datum": -10.8, "type": "quantitative", "scale": {"domain": [-13.9, 13.9], "nice": false, "zero": false}, "axis": {"orient": "right", "values": [-10, -5, 0, 5, 10], "labels": false, "offset": -7, "tickSize": 7, "title": null}},
    "text": {"value": "(d)"}
   }},
  {"data": {"values": [{}]}, "mark": {"type": "point", "opacity": 0},
   "encoding": {
    "x": {"datum": 1, "type": "quantitative", "scale": {"domain": [1, 73], "nice": false, "zero": false}, "axis": {"orient": "top", "values": [5, 10, 15, 25, 30, 35, 45, 50, 55, 65, 70], "labels": false, "offset": -3.5, "tickSize": 3.5, "title": null}},
    "y": {"datum": 0, "type": "quantitative", "scale": {"domain": [-13.9, 13.9], "nice": false, "zero": false}, "axis": {"orient": "right", "values": [-13, -12, -11, -9, -8, -7, -6, -4, -3, -2, -1, 1, 2, 3, 4, 6, 7, 8, 9, 11, 12, 13], "labels": false, "offset": -4, "tickSize": 4, "title": null}}
   }}
 ],
 "resolve": {"axis": {"x": "independent", "y": "independent"}}
},
{"width": 296, "height": 221, "title": "Central Pacific",
 "layer": [
  {"data": {"name": "e"}, "mark": {"type": "line", "clip": true},
   "encoding": {
    "x": {"field": "t", "type": "quantitative", "scale": {"domain": [1, 73], "nice": false, "zero": false}, "axis": {"orient": "bottom", "values": [20, 40, 60], "format": ".1f", "offset": -7, "tickSize": 7, "labelPadding": 12, "title": null}},
    "y": {"field": "v", "type": "quantitative", "scale": {"domain": [-7.9, 22], "nice": false, "zero": false}, "axis": {"orient": "left", "values": [-5, 0, 5, 10, 15, 20], "offset": -7, "tickSize": 7, "labelPadding": 10, "labelExpr": "replace(datum.label, '\u2212', '-')", "title": null}},
    "color": {"field": "s", "type": "nominal", "scale": {"domain": ["ASCI 1", "ASCI 2"], "range": ["#000000", "#ff0000"]}, "legend": {"orient": "none", "legendX": 7, "legendY": 178.5, "title": null}},
    "strokeWidth": {"condition": {"test": "datum.s === 'ASCI 1'", "value": 2.6}, "value": 1.3}
   }},
  {"data": {"values": [{}]}, "mark": {"type": "rect", "fill": "white", "stroke": "black", "strokeWidth": 1.2},
   "encoding": {
    "x": {"datum": 61.5, "type": "quantitative", "scale": {"domain": [1, 73], "nice": false, "zero": false}, "axis": {"orient": "bottom", "values": [5, 10, 15, 25, 30, 35, 45, 50, 55, 65, 70], "labels": false, "offset": -3.5, "tickSize": 3.5, "title": null}},
    "x2": {"datum": 71.5},
    "y": {"datum": -2.03, "type": "quantitative", "scale": {"domain": [-7.9, 22], "nice": false, "zero": false}, "axis": {"orient": "left", "values": [-7, -6, -4, -3, -2, -1, 1, 2, 3, 4, 6, 7, 8, 9, 11, 12, 13, 14, 16, 17, 18, 19, 21], "labels": false, "offset": -4, "tickSize": 4, "title": null}},
    "y2": {"datum": -7.2}
   }},
  {"data": {"values": [{}]}, "mark": {"type": "text", "fontSize": 22, "font": "Liberation Sans", "color": "black"},
   "encoding": {
    "x": {"datum": 66.5, "type": "quantitative", "scale": {"domain": [1, 73], "nice": false, "zero": false}, "axis": {"orient": "top", "values": [20, 40, 60], "labels": false, "offset": -7, "tickSize": 7, "title": null}},
    "y": {"datum": -4.6, "type": "quantitative", "scale": {"domain": [-7.9, 22], "nice": false, "zero": false}, "axis": {"orient": "right", "values": [-5, 0, 5, 10, 15, 20], "labels": false, "offset": -7, "tickSize": 7, "title": null}},
    "text": {"value": "(e)"}
   }},
  {"data": {"values": [{}]}, "mark": {"type": "point", "opacity": 0},
   "encoding": {
    "x": {"datum": 1, "type": "quantitative", "scale": {"domain": [1, 73], "nice": false, "zero": false}, "axis": {"orient": "top", "values": [5, 10, 15, 25, 30, 35, 45, 50, 55, 65, 70], "labels": false, "offset": -3.5, "tickSize": 3.5, "title": null}},
    "y": {"datum": 0, "type": "quantitative", "scale": {"domain": [-7.9, 22], "nice": false, "zero": false}, "axis": {"orient": "right", "values": [-7, -6, -4, -3, -2, -1, 1, 2, 3, 4, 6, 7, 8, 9, 11, 12, 13, 14, 16, 17, 18, 19, 21], "labels": false, "offset": -4, "tickSize": 4, "title": null}}
   }}
 ],
 "resolve": {"axis": {"x": "independent", "y": "independent"}}
}
], "spacing": 75, "bounds": "flush", "resolve": {"scale": {"color": "independent"}, "legend": {"color": "independent"}}}
],
"spacing": 4,
"center": true,
"resolve": {"scale": {"color": "independent"}, "legend": {"color": "independent"}},
"config": {
 "view": {"stroke": "black", "strokeWidth": 2},
 "axis": {"domain": false, "grid": false, "ticks": true, "tickColor": "black", "tickWidth": 1.5, "tickOpacity": 1, "labelFont": "Liberation Sans", "labelFontSize": 18, "labelColor": "black", "labelFlush": false},
 "title": {"font": "Liberation Sans", "fontSize": 29, "fontWeight": "normal", "color": "black", "anchor": "middle", "offset": 14},
 "legend": {"symbolType": "stroke", "symbolSize": 441, "symbolStrokeWidth": 4, "labelFont": "Liberation Serif", "labelFontSize": 21, "labelColor": "black", "padding": 0, "rowPadding": -1, "labelOffset": -3}
}
}
